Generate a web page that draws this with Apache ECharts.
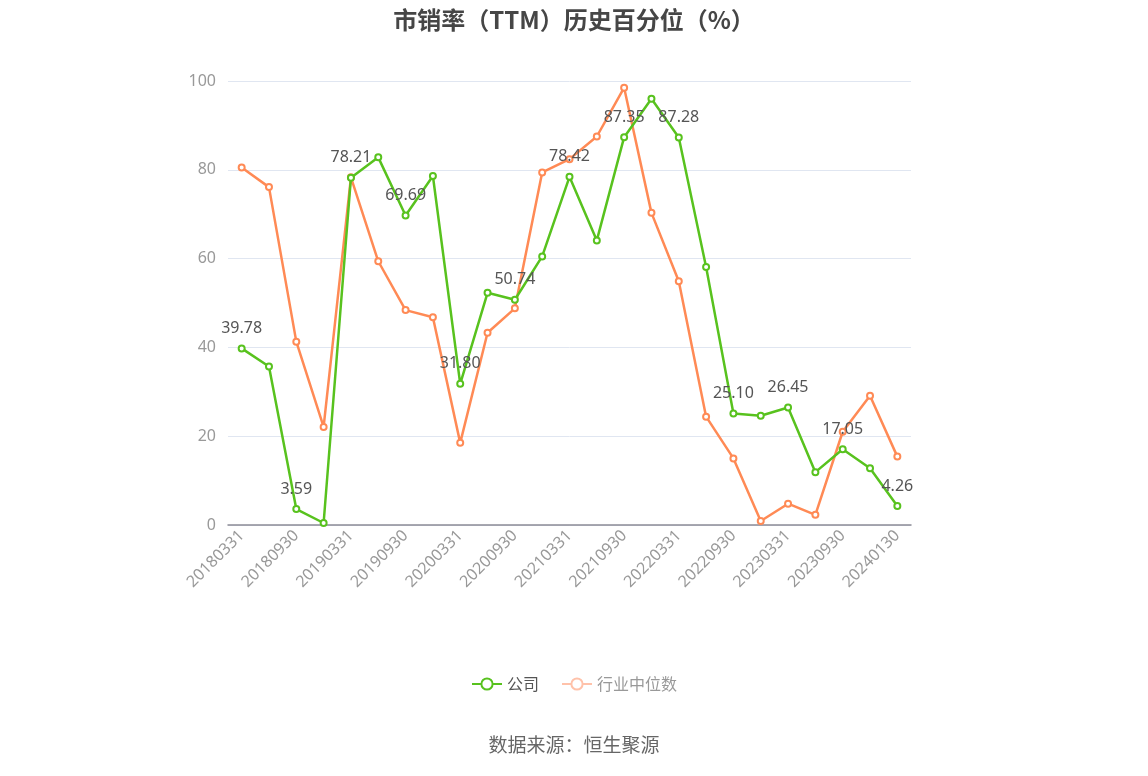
<!DOCTYPE html>
<html><head><meta charset="utf-8">
<script src="https://cdn.jsdelivr.net/npm/echarts@6/dist/echarts.min.js"></script>
<style>html,body{margin:0;padding:0;background:#fff}#c{width:1148px;height:776px}</style>
</head><body><div id="c"></div>
<script>
var categories = ['20180331','20180630','20180930','20181231','20190331','20190630','20190930','20191231','20200331','20200630','20200930','20201231','20210331','20210630','20210930','20211231','20220331','20220630','20220930','20221231','20230331','20230630','20230930','20231231','20240130'];
var companyValues = [39.78,35.7,3.59,0.45,78.21,82.8,69.69,78.6,31.80,52.3,50.74,60.5,78.42,64.1,87.35,96.0,87.28,58.1,25.10,24.6,26.45,11.9,17.05,12.8,4.26];
var industryValues = [80.5,76.1,41.3,22.1,78.3,59.4,48.4,46.8,18.5,43.3,48.8,79.4,82.4,87.5,98.5,70.3,54.9,24.4,15.0,0.9,4.8,2.3,21.0,29.1,15.4];
var yTicks = [0,20,40,60,80,100];

var chart = echarts.init(document.getElementById('c'));
chart.setOption({
  backgroundColor:'#fff',
  title:{text:'市销率（TTM）历史百分位（%）',left:'center',top:3,textStyle:{fontSize:24,fontWeight:'bold',color:'#464646',fontFamily:'Noto Sans CJK SC'}},
  graphic:[{type:'text',left:'center',top:735,style:{text:'数据来源：恒生聚源',fontSize:19,fill:'#666',fontFamily:'Noto Sans CJK SC'}}],
  legend:{bottom:79,left:'center',itemWidth:30,itemHeight:14,itemGap:22,
    textStyle:{fontSize:16,fontFamily:'Noto Sans CJK SC'},
    data:[{name:'公司',textStyle:{color:'#555'}},
          {name:'行业中位数',textStyle:{color:'#999'},itemStyle:{color:'#ffc2aa'},lineStyle:{color:'#ffc2aa'}}]},
  grid:{left:228,right:237,top:81,bottom:251},
  xAxis:{type:'category',data:categories,boundaryGap:true,
    axisLine:{lineStyle:{color:'#8c8c96',width:1.5}},
    axisTick:{interval:1,alignWithLabel:true,lineStyle:{color:'#8c8c96'}},
    axisLabel:{interval:1,rotate:45,color:'#999',fontSize:16,fontFamily:'Noto Sans'}},
  yAxis:{type:'value',min:yTicks[0],max:yTicks[yTicks.length-1],interval:20,
    axisLine:{show:false},axisTick:{show:false},
    axisLabel:{color:'#999',fontSize:16,margin:12,fontFamily:'Noto Sans'},
    splitLine:{lineStyle:{color:'#e0e6f1'}}},
  series:[
    {name:'公司',type:'line',data:companyValues,symbol:'emptyCircle',symbolSize:6,
     itemStyle:{color:'#58c21e'},lineStyle:{width:2.5,color:'#58c21e'},z:3,
     label:{show:true,position:'top',color:'#555',fontSize:16,fontFamily:'Noto Sans',distance:8,
       formatter:function(p){return p.dataIndex%2===0?p.value.toFixed(2):'';}}},
    {name:'行业中位数',type:'line',data:industryValues,symbol:'emptyCircle',symbolSize:6,
     itemStyle:{color:'#ff8a55'},lineStyle:{width:2.5,color:'#ff8a55'},z:2}
  ]
});
</script></body></html>
